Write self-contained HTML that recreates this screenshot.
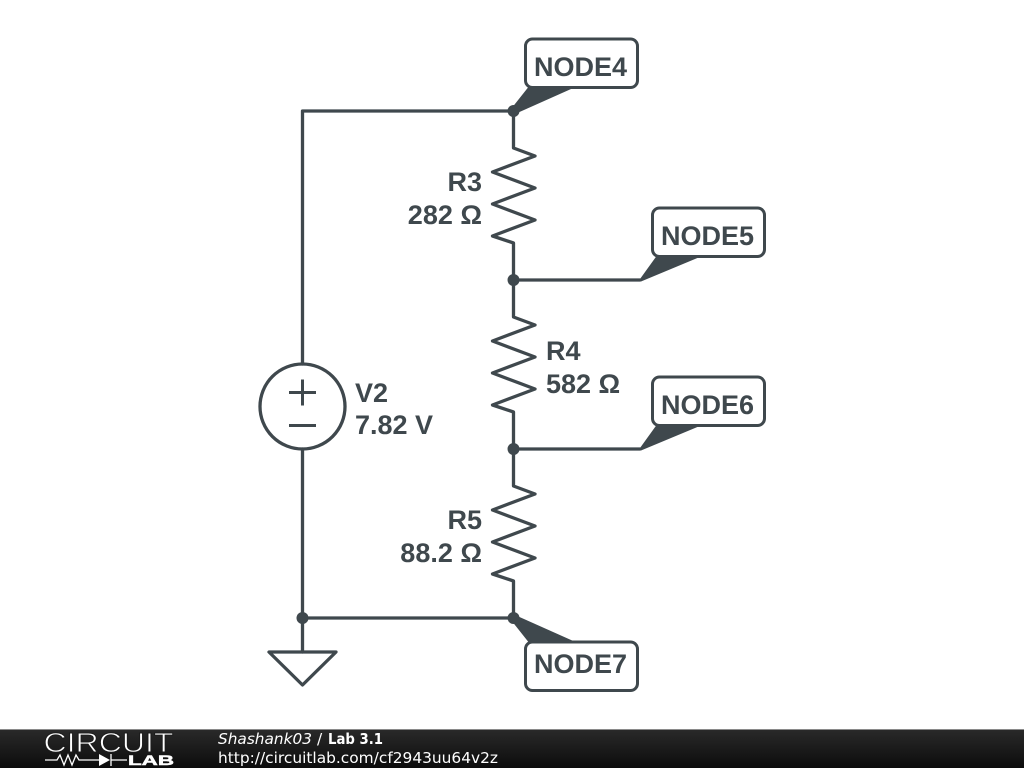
<!DOCTYPE html>
<html><head><meta charset="utf-8"><style>
html,body{margin:0;padding:0;background:#fff;width:1024px;height:768px;overflow:hidden}
svg{display:block}
.t{font-family:"Liberation Sans",sans-serif;font-weight:700;font-size:27px;fill:#3f484d}
.f{font-family:"DejaVu Sans",sans-serif;font-size:15.4px;fill:#fff}
</style></head><body>
<svg width="1024" height="768" viewBox="0 0 1024 768" xmlns="http://www.w3.org/2000/svg">
<defs><linearGradient id="g" x1="0" y1="0" x2="0" y2="1"><stop offset="0" stop-color="#2a2a2a"/><stop offset="1" stop-color="#0c0c0c"/></linearGradient></defs>
<g fill="none" stroke="#3f484d" stroke-width="3.300" stroke-linejoin="round" stroke-linecap="round">
<path d="M513.500 111H302.500V364M302.500 449V618M302.500 618H513.500M302.500 618V652"/>
<path d="M513.500 111V148L535 156L492.500 172L535 188L492.500 204L535 220L492.500 236L513.500 243V280V317L535 325L492.500 341L535 357L492.500 373L535 389L492.500 405L513.500 412V449V486L535 494L492.500 510L535 526L492.500 542L535 558L492.500 574L513.500 581V618"/>
<path d="M513.500 280H640M513.500 449H640"/>
<circle cx="302.500" cy="406.500" r="42.500"/>
<path d="M269 652H336L302.500 685Z"/>
</g>
<path d="M289 392.500H316M302.500 379.500V405.500M289 425.500H316" fill="none" stroke="#3f484d" stroke-width="3"/>
<g fill="#3f484d">
<circle cx="513.500" cy="111" r="6"/><circle cx="513.500" cy="280" r="6"/><circle cx="513.500" cy="449" r="6"/><circle cx="513.500" cy="618" r="6"/><circle cx="302.500" cy="618" r="6"/>
<path d="M511 109L530 85H580L515 114Z"/>
<path d="M640 279L658 254H707L641 281.500Z"/>
<path d="M640 448L658 423H707L641 450.500Z"/>
<path d="M511 620L530 644H580L515 615Z"/>
</g>
<g fill="#fff" stroke="#3f484d" stroke-width="3">
<rect x="525.500" y="39" width="112" height="48.500" rx="7"/>
<rect x="652.500" y="208" width="112" height="48.500" rx="7"/>
<rect x="652.500" y="377" width="112" height="48.500" rx="7"/>
<rect x="525.500" y="642" width="112" height="48.500" rx="7"/>
</g>
<text class="t" x="580.500" y="76" text-anchor="middle">NODE4</text>
<text class="t" x="707.500" y="245" text-anchor="middle">NODE5</text>
<text class="t" x="707.500" y="414" text-anchor="middle">NODE6</text>
<text class="t" x="580.500" y="673" text-anchor="middle">NODE7</text>
<text class="t" x="482" y="191" text-anchor="end">R3</text>
<text class="t" x="482" y="224" text-anchor="end">282 Ω</text>
<text class="t" x="546" y="360">R4</text>
<text class="t" x="546" y="393">582 Ω</text>
<text class="t" x="482" y="529" text-anchor="end">R5</text>
<text class="t" x="482" y="562" text-anchor="end">88.2 Ω</text>
<text class="t" x="355" y="402">V2</text>
<text class="t" x="355" y="434">7.82 V</text>
<rect x="0" y="729" width="1024" height="39" fill="url(#g)"/>
<rect x="0" y="729" width="1024" height="1" fill="#8a8a8a"/>
<text x="43.500" y="752" font-family="Liberation Sans, sans-serif" font-size="28" fill="#fff" stroke="#1c1c1c" stroke-width="0.9" textLength="130" lengthAdjust="spacingAndGlyphs">CIRCUIT</text>
<text x="128" y="765" font-family="Liberation Sans, sans-serif" font-weight="700" font-size="14" fill="#fff" stroke="#fff" stroke-width="0.5" textLength="46" lengthAdjust="spacingAndGlyphs">LAB</text>
<g fill="none" stroke="#fff" stroke-width="1.300">
<path d="M45 760H57L60 755L64 765L68 755L72 765L76 755L79 760H99M111 754V766M111 760H127"/>
</g>
<path d="M99 754L110 760L99 766Z" fill="#fff"/>
<text class="f" x="218" y="744" font-style="italic" textLength="94" lengthAdjust="spacingAndGlyphs">Shashank03</text>
<text class="f" x="317" y="744">/</text>
<text class="f" x="328" y="744" font-weight="700" font-size="14" textLength="55" lengthAdjust="spacingAndGlyphs">Lab 3.1</text>
<text class="f" x="218" y="763" textLength="280" lengthAdjust="spacingAndGlyphs">http://circuitlab.com/cf2943uu64v2z</text>
</svg>
</body></html>
